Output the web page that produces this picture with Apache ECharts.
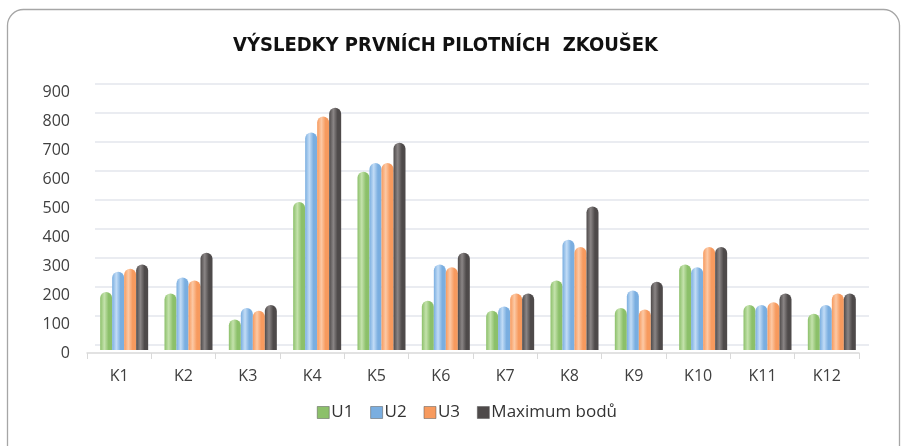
<!DOCTYPE html>
<html><head><meta charset="utf-8">
<script src="https://cdn.jsdelivr.net/npm/echarts@6/dist/echarts.min.js"></script>
<style>html,body{margin:0;padding:0;background:#fff}#c{width:907px;height:446px}</style>
</head><body><div id="c"></div>
<script>
const categories = ['K1','K2','K3','K4','K5','K6','K7','K8','K9','K10','K11','K12'];
const seriesNames = ['U1','U2','U3','Maximum bodů'];
const u1 = [200,195,105,510,615,170,135,240,145,295,155,125];
const u2 = [270,250,145,750,645,295,150,380,205,285,155,155];
const u3 = [280,240,135,805,645,285,195,355,140,355,165,195];
const maxBody = [295,335,155,835,715,335,195,495,235,355,195,195];
const yTicks = [0,100,200,300,400,500,600,700,800,900];

const base = ['#8cc06a','#7aaee0','#f79a5e','#4e4a4a'];
const light = ['#c4e2ac','#c2dcf6','#fcc9a5','#8a8585'];
function grad(i){
  return new echarts.graphic.LinearGradient(0,0,1,0,[
    {offset:0,color:base[i]},
    {offset:0.35,color:light[i]},
    {offset:0.7,color:base[i]},
    {offset:1,color:base[i]}
  ]);
}
const data = [u1,u2,u3,maxBody];
const yMin = yTicks[0], yMax = yTicks[yTicks.length-1], yStep = yTicks[1]-yTicks[0];
const font = 'Open Sans';
const chart = echarts.init(document.getElementById('c'));
chart.setOption({
  backgroundColor:'#fff',
  animation:false,
  graphic:[{type:'rect',shape:{x:7.5,y:9.5,width:892,height:460,r:16},style:{fill:'none',stroke:'#a6a6a6',lineWidth:1.3},z:-1}],
  title:{text:'VÝSLEDKY PRVNÍCH PILOTNÍCH  ZKOUŠEK',left:228,top:31,
    textStyle:{fontFamily:'DejaVu Sans Condensed, DejaVu Sans',fontWeight:'bold',fontSize:20,color:'#111'}},
  legend:{top:399,left:312,itemWidth:12,itemHeight:12,itemGap:17,
    textStyle:{fontFamily:font,fontSize:17,color:'#333',padding:[0,0,0,-3]},
    data:seriesNames.map((n,i)=>({name:n,icon:'rect',itemStyle:{color:base[i],borderColor:'#555',borderWidth:0.5}}))},
  grid:[
    {left:87,right:48,top:92,bottom:93},   // labels / floor front
    {left:92,right:43,top:89,bottom:96},   // bars
    {left:95,right:38,top:84,bottom:101}   // back wall gridlines
  ],
  xAxis:[
    {gridIndex:0,type:'category',data:categories,
      axisLine:{lineStyle:{color:'#d9d9d9',width:1.5}},
      axisTick:{show:true,length:6,lineStyle:{color:'#d9d9d9'}},
      axisLabel:{fontFamily:font,fontSize:16,color:'#404040',margin:15}},
    {gridIndex:1,type:'category',data:categories,show:false},
    {gridIndex:2,type:'category',data:categories,show:false}
  ],
  yAxis:[
    {gridIndex:0,type:'value',min:yMin,max:yMax,interval:yStep,
      axisLine:{show:false},axisTick:{show:false},splitLine:{show:false},
      axisLabel:{fontFamily:font,fontSize:16,color:'#404040',margin:17}},
    {gridIndex:1,type:'value',min:yMin,max:yMax,interval:yStep,show:false,splitLine:{show:false}},
    {gridIndex:2,type:'value',min:yMin,max:yMax,interval:yStep,
      axisLine:{show:false},axisTick:{show:false},axisLabel:{show:false},
      splitLine:{lineStyle:{color:'#e3e6ec',width:1.5}}}
  ],
  series:seriesNames.map((n,i)=>({name:n,type:'bar',xAxisIndex:1,yAxisIndex:1,data:data[i],barWidth:12,barGap:'0%',
    itemStyle:{color:grad(i),borderRadius:[6,6,0,0]}}))
});
</script></body></html>
